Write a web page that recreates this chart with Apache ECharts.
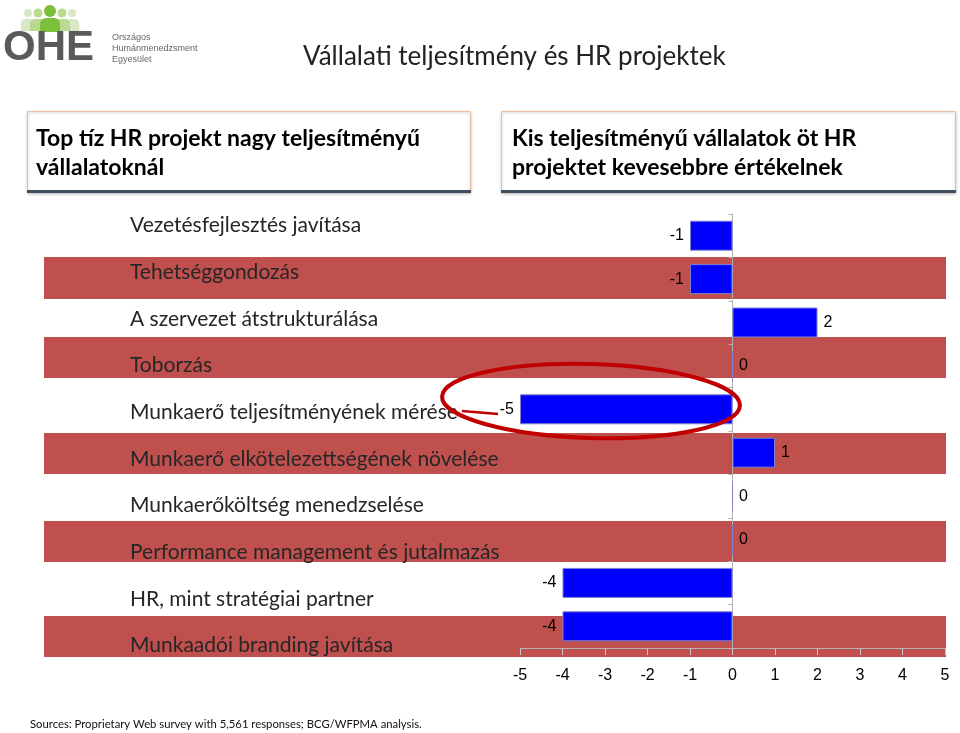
<!DOCTYPE html>
<html>
<head>
<meta charset="utf-8">
<script src="https://cdn.jsdelivr.net/npm/echarts@6/dist/echarts.min.js"></script>
<style>
html,body{margin:0;padding:0;background:#fff;}
#c{width:960px;height:733px;}
</style>
</head>
<body>
<div id="c"></div>
<script>
const categories = [
  "Vezetésfejlesztés javítása",
  "Tehetséggondozás",
  "A szervezet átstrukturálása",
  "Toborzás",
  "Munkaerő teljesítményének mérése",
  "Munkaerő elkötelezettségének növelése",
  "Munkaerőköltség menedzselése",
  "Performance management és jutalmazás",
  "HR, mint stratégiai partner",
  "Munkaadói branding javítása"
];
const values = [-1, -1, 2, 0, -5, 1, 0, 0, -4, -4];
const xTicks = { min: -5, max: 5, interval: 1 };
const titleText = "Vállalati teljesítmény és HR projektek";
const leftHeader = "Top tíz HR projekt nagy teljesítményű\nvállalatoknál";
const rightHeader = "Kis teljesítményű vállalatok öt HR\nprojektet kevesebbre értékelnek";
const sourceText = "Sources: Proprietary Web survey with 5,561 responses; BCG/WFPMA analysis.";
const logoLines = ["Országos", "Humánmenedzsment", "Egyesület"];

// layout (table row bands)
const bands = [[257, 42], [337, 41], [433, 41], [521, 41], [616, 41]];
const BAND_RED = "#c0504d";

const chart = echarts.init(document.getElementById('c'), null, { renderer: 'canvas' });

const graphics = [];
bands.forEach(b => {
  graphics.push({ type: 'rect', left: 44, top: b[0], z: -10, shape: { width: 902, height: b[1] }, style: { fill: BAND_RED } });
});
// header boxes
function headerBox(x, w, text, tx) {
  graphics.push({ type: 'rect', left: x, top: 111, z: 1, shape: { width: w, height: 81 }, style: { fill: '#fff', stroke: '#eac0a0', lineWidth: 1, shadowBlur: 3, shadowColor: 'rgba(0,0,0,0.25)', shadowOffsetY: 1 } });
  graphics.push({ type: 'rect', left: x, top: 190, z: 2, shape: { width: w + 1, height: 3 }, style: { fill: '#3f4d5e' } });
  graphics.push({ type: 'text', left: tx, top: 124, z: 3, style: { text: text, fill: '#000', font: 'bold 23px Lato', lineHeight: 29 } });
}
headerBox(27, 443, leftHeader, 36);
headerBox(501, 454, rightHeader, 512);
// title
graphics.push({ type: 'text', left: 303, top: 44, style: { text: titleText, fill: '#222', font: '26px Lato' } });
// source
graphics.push({ type: 'text', left: 30, top: 719, style: { text: sourceText, fill: '#111', font: '11.3px Lato' } });
// logo
const people = [[28, 0.35, '#d8e8c6', 0.8], [72, 0.35, '#d8e8c6', 0.8], [38, 0.6, '#b9d890', 0.9], [62, 0.6, '#b9d890', 0.9]];
people.forEach(p => {
  const s = p[3];
  graphics.push({ type: 'circle', z: 1, shape: { cx: p[0], cy: 13, r: 5 * s }, style: { fill: p[2] } });
  graphics.push({ type: 'rect', z: 1, shape: { x: p[0] - 9 * s, y: 19, width: 18 * s, height: 12, r: [5, 5, 0, 0] }, style: { fill: p[2] } });
});
graphics.push({ type: 'circle', z: 2, shape: { cx: 50, cy: 11, r: 6 }, style: { fill: '#7bbf3a' } });
graphics.push({ type: 'rect', z: 2, shape: { x: 40, y: 18, width: 20, height: 14, r: [6, 6, 0, 0] }, style: { fill: '#7bbf3a' } });
graphics.push({ type: 'text', left: 3, top: 27, z: 3, style: { text: 'OHE', fill: '#5a5a5a', font: 'bold 42px "Liberation Sans"' } });
graphics.push({ type: 'text', left: 112, top: 32, style: { text: logoLines.join('\n'), fill: '#666', font: '9px "Liberation Sans"', lineHeight: 11 } });
// highlight ellipse with tail
graphics.push({ type: 'ellipse', z: 100, shape: { cx: 591, cy: 401, rx: 149, ry: 37 }, rotation: -0.03, originX: 591, originY: 401, style: { fill: 'none', stroke: '#c00000', lineWidth: 4 } });
graphics.push({ type: 'line', z: 100, shape: { x1: 462, y1: 411, x2: 498, y2: 414 }, style: { stroke: '#c00000', lineWidth: 2.5 } });

chart.setOption({
  animation: false,
  backgroundColor: '#fff',
  graphic: graphics,
  grid: [
    { left: 520, right: 15, top: 214, bottom: 85 },
    { left: 130, width: 300, top: 202, height: 467 }
  ],
  xAxis: [
    {
      gridIndex: 0, type: 'value', min: xTicks.min, max: xTicks.max, interval: xTicks.interval,
      axisLine: { show: true, onZero: false, lineStyle: { color: '#b0b0b0', width: 1 } },
      axisTick: { show: true, length: 7, lineStyle: { color: '#c8c8c8' } },
      splitLine: { show: false },
      axisLabel: { color: '#000', fontSize: 16, fontFamily: '"Liberation Sans"', margin: 20 }
    },
    { gridIndex: 1, type: 'value', show: false, min: 0, max: 1 }
  ],
  yAxis: [
    {
      gridIndex: 0, type: 'category', data: categories, inverse: true,
      axisLine: { show: true, lineStyle: { color: '#b0b0b0' } },
      axisTick: { show: true, length: 4, lineStyle: { color: '#b0b0b0' } },
      axisLabel: { show: false }
    },
    {
      gridIndex: 1, type: 'category', data: categories, inverse: true,
      axisLine: { show: false }, axisTick: { show: false },
      axisLabel: { align: 'left', margin: 0, color: '#262626', fontSize: 21, fontFamily: 'Lato' }
    }
  ],
  series: [{
    type: 'bar',
    xAxisIndex: 0, yAxisIndex: 0,
    barWidth: 30,
    data: values.map(v => ({ value: v, label: { position: v < 0 ? 'left' : 'right' } })),
    itemStyle: { color: '#0000ff', borderColor: '#8080cc', borderWidth: 1 },
    label: { show: true, color: '#000', fontSize: 16, fontFamily: '"Liberation Sans"', distance: 6 }
  }]
});
</script>
</body>
</html>
